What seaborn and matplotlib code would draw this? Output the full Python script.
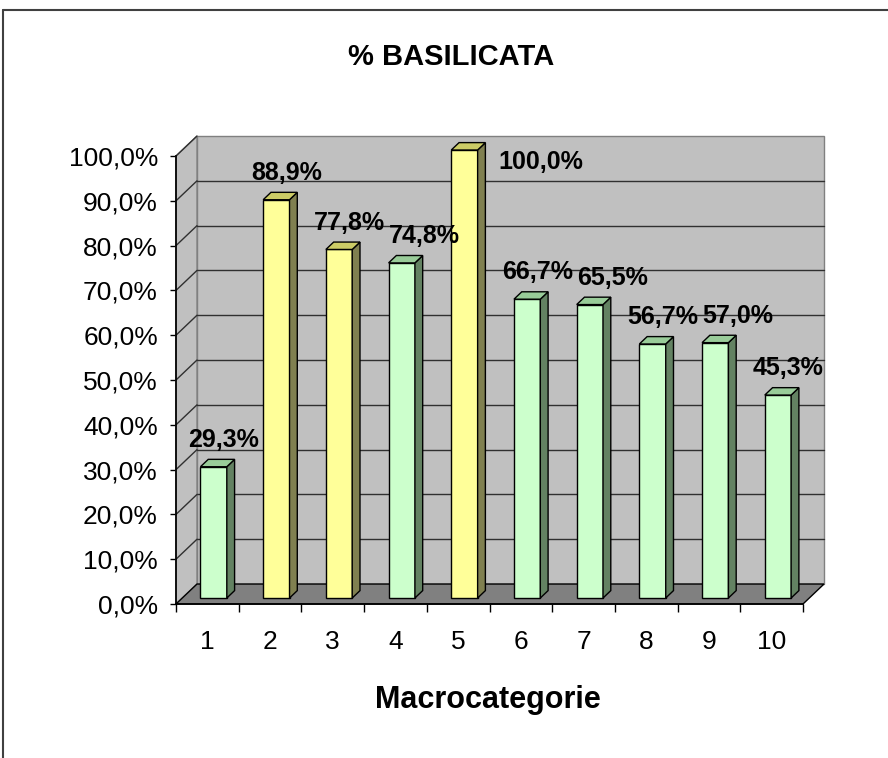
import numpy as np
import pandas as pd
import seaborn as sns
import matplotlib.pyplot as plt
from matplotlib.patches import Polygon
from matplotlib.lines import Line2D

# Dati
categorie = ['1', '2', '3', '4', '5', '6', '7', '8', '9', '10']
valori = [29.3, 88.9, 77.8, 74.8, 100.0, 66.7, 65.5, 56.7, 57.0, 45.3]
gruppo = ['v', 'g', 'g', 'v', 'g', 'v', 'v', 'v', 'v', 'v']
tick_y = [0, 10, 20, 30, 40, 50, 60, 70, 80, 90, 100]

titolo = '% BASILICATA'
etichetta_x = 'Macrocategorie'

# colori (fronte, lato, sopra)
COL = {'v': ('#CCFFCC', '#638262', '#99CC99'),
       'g': ('#FFFF99', '#808050', '#CCCC66')}

sns.set_theme(style='white')
plt.rcParams['font.family'] = ['Liberation Sans Narrow', 'Liberation Sans', 'DejaVu Sans']
plt.rcParams['text.color'] = 'black'
plt.rcParams['xtick.color'] = 'black'
plt.rcParams['ytick.color'] = 'black'

# profondità 3D in unità dati
DX, DY = 0.335, 4.46
F0, FD = 0.30, 0.37   # posizione e spessore della barra nella profondità

fig = plt.figure(figsize=(8.88, 7.58), dpi=100)
ax = fig.add_axes([176 / 888, 1 - 604 / 758, 627 / 888, 448 / 758])

df = pd.DataFrame({'cat': categorie, 'val': valori})
sns.barplot(data=df, x='cat', y='val', hue='cat', width=0.42, saturation=1,
            palette=[COL[g][0] for g in gruppo], edgecolor='black',
            linewidth=1.0, legend=False, ax=ax, zorder=5)
barre = sorted(ax.patches, key=lambda p: p.get_x())

x0, x1 = -0.5, len(categorie) - 0.5
ax.set_xlim(x0, x1)
ax.set_ylim(0, 100)
ax.patch.set_visible(False)

# pareti e pavimento
ax.add_patch(Polygon([(x0 + DX, DY), (x1 + DX, DY), (x1 + DX, 100 + DY), (x0 + DX, 100 + DY)],
                     closed=True, fc='#C0C0C0', ec='#808080', lw=1, clip_on=False, zorder=1))
ax.add_patch(Polygon([(x0, 0), (x0 + DX, DY), (x0 + DX, 100 + DY), (x0, 100)],
                     closed=True, fc='#C0C0C0', ec='#808080', lw=1, clip_on=False, zorder=1))
ax.add_patch(Polygon([(x0, 0), (x1, 0), (x1 + DX, DY), (x0 + DX, DY)],
                     closed=True, fc='#808080', ec='black', lw=1, clip_on=False, zorder=2))
for v in tick_y[1:-1]:
    ax.plot([x0 + DX, x1 + DX], [v + DY, v + DY], color='#303030', lw=1, clip_on=False, zorder=1.5)
for v in tick_y[1:]:
    ax.plot([x0, x0 + DX], [v, v + DY], color='#303030', lw=1, clip_on=False, zorder=1.5)

# barre 3D + etichette
testi = []
for p, val, g in zip(barre, valori, gruppo):
    p.set_x(p.get_x() + F0 * DX)
    p.set_y(F0 * DY)
    p.set_clip_on(False)
    xl = p.get_x()
    xr = xl + p.get_width()
    yb = p.get_y()
    yt = yb + p.get_height()
    ddx, ddy = FD * DX, FD * DY
    ax.add_patch(Polygon([(xr, yb), (xr + ddx, yb + ddy), (xr + ddx, yt + ddy), (xr, yt)],
                         closed=True, fc=COL[g][1], ec='black', lw=1, clip_on=False, zorder=5))
    ax.add_patch(Polygon([(xl, yt), (xr, yt), (xr + ddx, yt + ddy), (xl + ddx, yt + ddy)],
                         closed=True, fc=COL[g][2], ec='black', lw=1, clip_on=False, zorder=5))
    testo = f'{val:.1f}%'.replace('.', ',')
    if val >= 100:
        t = ax.text(xr + 0.33, val - 1.3, testo, ha='left', va='center', fontsize=18,
                    fontweight='bold', zorder=10, clip_on=False)
    else:
        t = ax.text((xl + xr) / 2 + 0.16, yt + 3.3, testo, ha='center', va='bottom', fontsize=18,
                    fontweight='bold', zorder=10, clip_on=False)
    testi.append(t)

# evita sovrapposizioni tra etichette vicine: sposta a destra
fig.canvas.draw()
px_per_x = ax.transData.transform((1, 0))[0] - ax.transData.transform((0, 0))[0]
for prec, t in zip(testi[:-1], testi[1:]):
    bp = prec.get_window_extent()
    bt = t.get_window_extent()
    if bp.overlaps(bt):
        sposta = (bp.x1 + 4 - bt.x0) / px_per_x
        x, y = t.get_position()
        t.set_position((x + sposta, y))

# assi
for s in ['top', 'right']:
    ax.spines[s].set_visible(False)
ax.spines['left'].set_color('black')
ax.spines['bottom'].set_color('black')
ax.spines['left'].set_zorder(3)
ax.spines['bottom'].set_zorder(3)

ax.set_yticks(tick_y)
ax.set_yticklabels([f'{v:.1f}%'.replace('.', ',') for v in tick_y], fontsize=19)
ax.tick_params(axis='y', direction='out', length=4, width=1, color='black', pad=9, left=True)

ax.set_xticks(range(len(categorie)))
ax.set_xticklabels(categorie, fontsize=19)
ax.set_xticks(np.arange(len(categorie) + 1) - 0.5, minor=True)
ax.tick_params(axis='x', which='major', length=0, pad=19)
ax.tick_params(axis='x', which='minor', direction='out', length=6, width=1, color='black', bottom=True)
ax.set_xlabel('')
ax.set_ylabel('')

fig.text(451 / 888, 1 - 57 / 758, titolo, ha='center', va='center', fontsize=21, fontweight='bold')
fig.text(488 / 888, 1 - 700 / 758, etichetta_x, ha='center', va='center', fontsize=22, fontweight='bold')

# cornice
fig.add_artist(Line2D([3 / 888, 1], [1 - 10 / 758, 1 - 10 / 758], color='#404040', lw=1.5))
fig.add_artist(Line2D([3 / 888, 3 / 888], [0, 1 - 10 / 758], color='#404040', lw=1.5))

fig.savefig('out.png', dpi=100)
